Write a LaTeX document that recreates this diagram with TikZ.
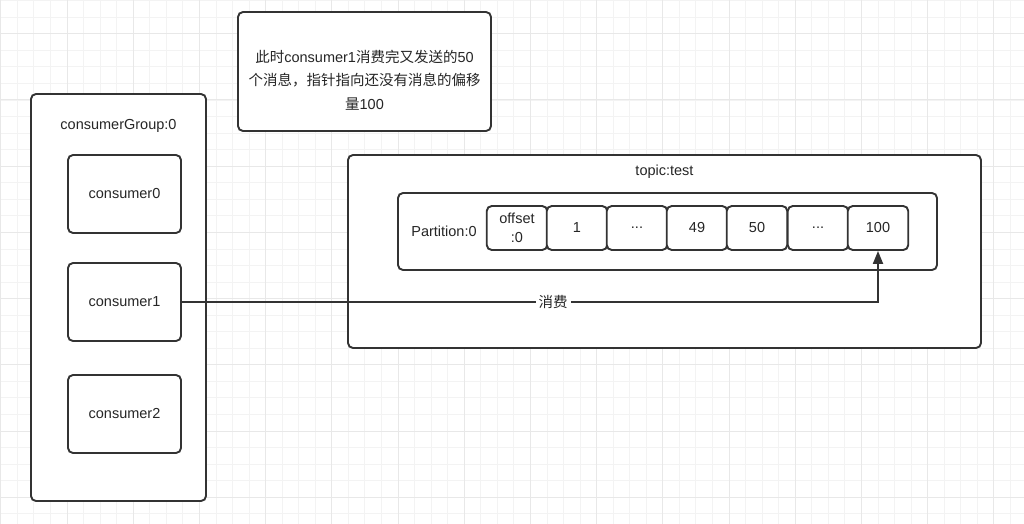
\documentclass[tikz,border=0pt]{standalone}
\usepackage{fontspec}
\setmainfont{Liberation Sans}
\newfontfamily\cjk{Noto Sans CJK SC}
\usetikzlibrary{arrows.meta}
\definecolor{linec}{HTML}{333333}
\definecolor{gridminor}{HTML}{F3F3F3}
\definecolor{gridmajor}{HTML}{E8E8E8}
\tikzset{
  box/.style={draw=linec, line width=1.9pt, rounded corners=5pt, fill=white},
  lbl/.style={font=\fontsize{14.5}{17}\selectfont, text=black!85, inner sep=0pt},
  conn/.style={draw=linec, line width=1.9pt, -{Triangle[length=13pt,width=10pt]}},
}
\begin{document}
\begin{tikzpicture}[x=1pt,y=-1pt]
\useasboundingbox (0,0) rectangle (1024,524);
\fill[white] (0,0) rectangle (1024,524);
% grid
\foreach \i in {0,...,62} {
  \draw[gridminor, line width=0.9pt] ({0.8+16.55*\i},0) -- ({0.8+16.55*\i},524);
}
\foreach \i in {0,...,32} {
  \draw[gridminor, line width=0.9pt] (0,{0.7+16.55*\i}) -- (1024,{0.7+16.55*\i});
}
\foreach \i in {0,...,15} {
  \draw[gridmajor, line width=1pt] ({0.8+66.2*\i},0) -- ({0.8+66.2*\i},524);
}
\foreach \i in {0,...,8} {
  \draw[gridmajor, line width=1pt] (0,{-32.4+66.2*\i}) -- (1024,{-32.4+66.2*\i});
}

% note
\draw[box] (238,12) rectangle (491,131);
\node[lbl, align=center, font=\fontsize{14.5}{23.5}\selectfont] (note) at (364.5,80)
  {{\cjk 此时}consumer1{\cjk 消费完又发送的}50\\{\cjk 个消息，指针指向还没有消息的偏移}\\{\cjk 量}100};

% consumer group
\draw[box] (31,94) rectangle (206,501);
\node[lbl] (grp) at (118.5,126) {consumerGroup:0};
\node[box, minimum width=113pt, minimum height=78pt, lbl] (c0) at (124.5,194) {consumer0};
\node[box, minimum width=113pt, minimum height=78pt, lbl] (c1) at (124.5,302) {consumer1};
\node[box, minimum width=113pt, minimum height=78pt, lbl] (c2) at (124.5,414) {consumer2};

% topic
\draw[box] (348,155) rectangle (981,348);
\node[lbl] (topic) at (664.5,172) {topic:test};
\draw[box] (398,193) rectangle (937,270);
\node[lbl] (part) at (444,231) {Partition:0};

\tikzset{cell/.style={box, minimum width=60.5pt, minimum height=44pt, lbl}}
\node[cell, align=center, font=\fontsize{14.5}{19}\selectfont] (o0) at (517,228) {offset\\:0};
\node[cell] (o1) at (577,228) {1};
\node[cell] (o2) at (637,228) {...};
\node[cell] (o49) at (697,228) {49};
\node[cell] (o50) at (757,228) {50};
\node[cell] (o3) at (818,228) {...};
\node[cell] (o100) at (878,228) {100};

\draw[conn] (c1.east) -- (o100.south |- c1.east) -- (o100.south);
\node[lbl, fill=white, inner xsep=3pt, inner ysep=2pt, font=\cjk\fontsize{14.5}{17}\selectfont] (xf) at (553,302) {消费};
\end{tikzpicture}
\end{document}
